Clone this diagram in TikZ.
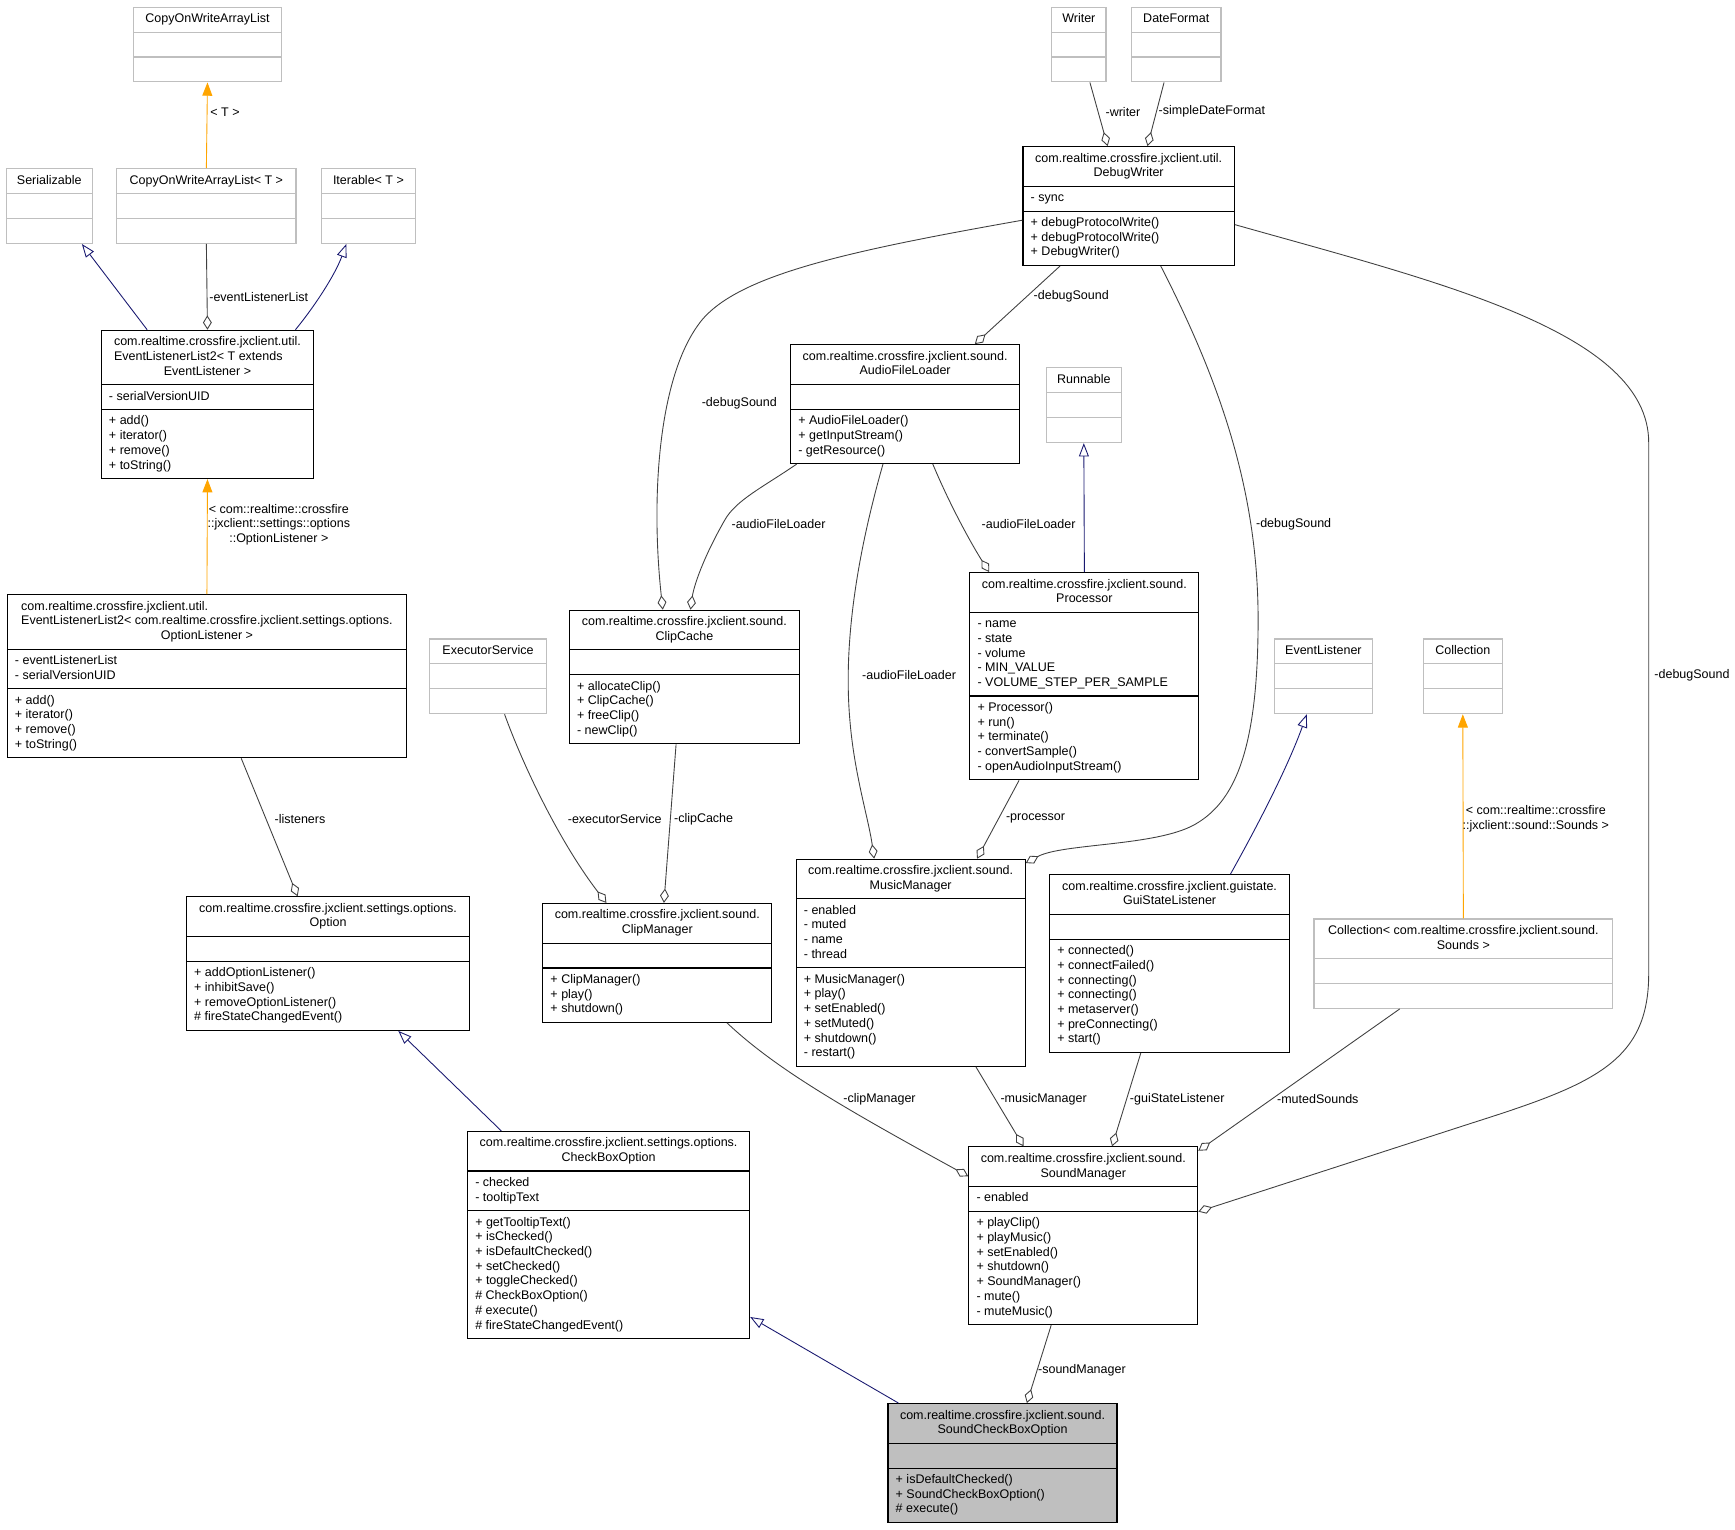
\documentclass[tikz,border=0pt]{standalone}
\usepackage{fontspec}
\setmainfont{Liberation Sans}
\usetikzlibrary{shapes.multipart,arrows.meta,calc}

\definecolor{edgegray}{HTML}{404040}
\definecolor{inhnavy}{HTML}{191970}
\definecolor{tmplorange}{HTML}{FFA500}
\definecolor{extgray}{HTML}{BFBFBF}
\definecolor{focusfill}{HTML}{BFBFBF}

\newcommand{\clsname}[1]{\begin{tabular}{@{}c@{}}#1\end{tabular}}
\newcommand{\clsrows}[1]{\begin{tabular}{@{}l@{}}#1\end{tabular}}

\tikzset{
  cls/.style={rectangle split, rectangle split parts=3,
    rectangle split part align={center,left,left},
    draw=black, line width=1pt, inner xsep=7pt, inner ysep=4.1pt, anchor=north west},
  extcls/.style={cls, draw=extgray},
  focuscls/.style={cls, fill=focusfill},
  agg/.style={draw=edgegray, line width=0.8pt, -{Diamond[open,length=13pt,width=8pt]}},
  isa/.style={draw=inhnavy, line width=0.8pt, -{Triangle[open,length=12pt,width=9pt]}},
  tmpl/.style={draw=tmplorange, line width=0.8pt, -{Triangle[length=12pt,width=9pt]}},
  lbl/.style={anchor=west, inner sep=0pt},
}

\begin{document}
\begin{tikzpicture}[x=1pt,y=-1pt,font=\fontsize{11.3}{13.3}\selectfont]
\useasboundingbox (0,0) rectangle (1568,1382);

% classes
\node[extcls,minimum width=134pt] (cow) at (120,6) {\clsname{CopyOnWriteArrayList}\nodepart{second}\strut\nodepart{third}\strut};
\node[extcls,minimum width=78pt] (ser) at (5,152) {\clsname{Serializable}\nodepart{second}\strut\nodepart{third}\strut};
\node[extcls,minimum width=162pt] (cowT) at (105,152) {\clsname{CopyOnWriteArrayList< T >}\nodepart{second}\strut\nodepart{third}\strut};
\node[extcls,minimum width=85pt] (iter) at (290,152) {\clsname{Iterable< T >}\nodepart{second}\strut\nodepart{third}\strut};
\node[cls,minimum width=192pt] (el2) at (91,298) {\clsrows{com.realtime.crossfire.jxclient.util.\\EventListenerList2< T extends\\\multicolumn{1}{@{}c@{}}{EventListener >}}\nodepart{second}\clsrows{- serialVersionUID}\nodepart{third}\clsrows{+ add()\\+ iterator()\\+ remove()\\+ toString()}};
\node[cls,minimum width=361pt] (el2b) at (6,537) {\clsrows{com.realtime.crossfire.jxclient.util.\\EventListenerList2< com.realtime.crossfire.jxclient.settings.options.\\\multicolumn{1}{@{}c@{}}{OptionListener >}}\nodepart{second}\clsrows{- eventListenerList\\- serialVersionUID}\nodepart{third}\clsrows{+ add()\\+ iterator()\\+ remove()\\+ toString()}};
\node[extcls,minimum width=105pt] (exec) at (388,577) {\clsname{ExecutorService}\nodepart{second}\strut\nodepart{third}\strut};
\node[cls,minimum width=256pt] (opt) at (168,810) {\clsname{com.realtime.crossfire.jxclient.settings.options.\\Option}\nodepart{second}\strut\nodepart{third}\clsrows{+ addOptionListener()\\+ inhibitSave()\\+ removeOptionListener()\\\# fireStateChangedEvent()}};
\node[cls,minimum width=208pt] (cc) at (514,551) {\clsname{com.realtime.crossfire.jxclient.sound.\\ClipCache}\nodepart{second}\strut\nodepart{third}\clsrows{+ allocateClip()\\+ ClipCache()\\+ freeClip()\\- newClip()}};
\node[cls,minimum width=207pt] (afl) at (714,311) {\clsname{com.realtime.crossfire.jxclient.sound.\\AudioFileLoader}\nodepart{second}\strut\nodepart{third}\clsrows{+ AudioFileLoader()\\+ getInputStream()\\- getResource()}};
\node[extcls,minimum width=68pt] (run) at (945,332) {\clsname{Runnable}\nodepart{second}\strut\nodepart{third}\strut};
\node[cls,minimum width=207pt] (proc) at (876,517) {\clsname{com.realtime.crossfire.jxclient.sound.\\Processor}\nodepart{second}\clsrows{- name\\- state\\- volume\\- MIN\_VALUE\\- VOLUME\_STEP\_PER\_SAMPLE}\nodepart{third}\clsrows{+ Processor()\\+ run()\\+ terminate()\\- convertSample()\\- openAudioInputStream()}};
\node[cls,minimum width=191pt] (dw) at (924,132) {\clsname{com.realtime.crossfire.jxclient.util.\\DebugWriter}\nodepart{second}\clsrows{- sync}\nodepart{third}\clsrows{+ debugProtocolWrite()\\+ debugProtocolWrite()\\+ DebugWriter()}};
\node[extcls,minimum width=49pt] (wri) at (950,6) {\clsname{Writer}\nodepart{second}\strut\nodepart{third}\strut};
\node[extcls,minimum width=81pt] (df) at (1022,6) {\clsname{DateFormat}\nodepart{second}\strut\nodepart{third}\strut};
\node[cls,minimum width=207pt] (mm) at (719,776) {\clsname{com.realtime.crossfire.jxclient.sound.\\MusicManager}\nodepart{second}\clsrows{- enabled\\- muted\\- name\\- thread}\nodepart{third}\clsrows{+ MusicManager()\\+ play()\\+ setEnabled()\\+ setMuted()\\+ shutdown()\\- restart()}};
\node[cls,minimum width=207pt] (cm) at (490,816) {\clsname{com.realtime.crossfire.jxclient.sound.\\ClipManager}\nodepart{second}\strut\nodepart{third}\clsrows{+ ClipManager()\\+ play()\\+ shutdown()}};
\node[cls,minimum width=217pt] (gsl) at (948,790) {\clsname{com.realtime.crossfire.jxclient.guistate.\\GuiStateListener}\nodepart{second}\strut\nodepart{third}\clsrows{+ connected()\\+ connectFailed()\\+ connecting()\\+ connecting()\\+ metaserver()\\+ preConnecting()\\+ start()}};
\node[extcls,minimum width=89pt] (evl) at (1151,577) {\clsname{EventListener}\nodepart{second}\strut\nodepart{third}\strut};
\node[extcls,minimum width=71pt] (col) at (1286,577) {\clsname{Collection}\nodepart{second}\strut\nodepart{third}\strut};
\node[extcls,minimum width=270pt] (cols) at (1187,830) {\clsname{Collection< com.realtime.crossfire.jxclient.sound.\\Sounds >}\nodepart{second}\strut\nodepart{third}\strut};
\node[cls,minimum width=255pt] (cbo) at (422,1022) {\clsname{com.realtime.crossfire.jxclient.settings.options.\\CheckBoxOption}\nodepart{second}\clsrows{- checked\\- tooltipText}\nodepart{third}\clsrows{+ getTooltipText()\\+ isChecked()\\+ isDefaultChecked()\\+ setChecked()\\+ toggleChecked()\\\# CheckBoxOption()\\\# execute()\\\# fireStateChangedEvent()}};
\node[cls,minimum width=207pt] (sm) at (875,1036) {\clsname{com.realtime.crossfire.jxclient.sound.\\SoundManager}\nodepart{second}\clsrows{- enabled}\nodepart{third}\clsrows{+ playClip()\\+ playMusic()\\+ setEnabled()\\+ shutdown()\\+ SoundManager()\\- mute()\\- muteMusic()}};
\node[focuscls,minimum width=207pt] (scbo) at (802,1268) {\clsname{com.realtime.crossfire.jxclient.sound.\\SoundCheckBoxOption}\nodepart{second}\strut\nodepart{third}\clsrows{+ isDefaultChecked()\\+ SoundCheckBoxOption()\\\# execute()}};

% inheritance
\draw[isa] ($(el2.north west)+(42,0)$) -- ($(ser.south west)+(69,0)$);
\draw[isa] ($(el2.north west)+(176,0)$) .. controls (285,276) and (303,248) .. ($(iter.south west)+(23,0)$);
\draw[isa] (proc.north) -- (run.south);
\draw[isa] ($(gsl.north west)+(164,0)$) .. controls (1140,740) and (1165,690) .. ($(evl.south west)+(30,0)$);
\draw[isa] ($(cbo.north west)+(31,0)$) -- ($(opt.south west)+(192,0)$);
\draw[isa] ($(scbo.north west)+(10,0)$) -- ($(cbo.south east)+(0,-20)$);

% template instances
\draw[tmpl] (cowT.north) -- (cow.south);
\draw[tmpl] (el2b.north) -- (el2.south);
\draw[tmpl] (cols.north) -- (col.south);

% usage
\draw[agg] (cowT.south) -- (el2.north);
\draw[agg] ($(el2b.south west)+(212,0)$) -- ($(opt.north west)+(101,0)$);
\draw[agg] ($(exec.south west)+(68,0)$) .. controls (472,690) and (505,760) .. ($(cm.north west)+(58,0)$);
\draw[agg] ($(cc.south west)+(97,0)$) -- ($(cm.north west)+(110,0)$);
\draw[agg] ($(dw.north west)+(0,67)$) .. controls (760,228) and (660,250) .. (630,295) .. controls (595,345) and (588,450) .. ($(cc.north west)+(85,0)$);
\draw[agg] ($(afl.south west)+(6,0)$) .. controls (690,440) and (665,452) .. (655,470) .. controls (635,505) and (627,530) .. ($(cc.north west)+(110,0)$);
\draw[agg] ($(afl.south west)+(84,0)$) .. controls (775,500) and (762,580) .. (768,650) .. controls (772,700) and (785,740) .. ($(mm.north west)+(71,0)$);
\draw[agg] ($(afl.south west)+(129,0)$) .. controls (860,460) and (880,495) .. ($(proc.north west)+(18,0)$);
\draw[agg] ($(dw.south west)+(34,0)$) -- ($(afl.north west)+(167,0)$);
\draw[agg] ($(wri.south west)+(35,0)$) -- ($(dw.north west)+(77,0)$);
\draw[agg] ($(df.south west)+(30,0)$) -- ($(dw.north west)+(113,0)$);
\draw[agg] ($(dw.south west)+(125,0)$) .. controls (1100,340) and (1137,440) .. (1137,560) .. controls (1137,680) and (1115,725) .. (1080,745) .. controls (1045,765) and (960,762) .. ($(mm.north east)+(0,4)$);
\draw[agg] ($(proc.south west)+(45,0)$) -- ($(mm.north west)+(164,0)$);
\draw[agg] ($(cols.south west)+(78,0)$) -- ($(sm.north east)+(0,4)$);
\draw[agg] ($(dw.north east)+(0,71)$) .. controls (1300,255) and (1490,300) .. (1490,400) -- (1490,880) .. controls (1490,960) and (1440,980) .. (1330,1015) -- ($(sm.north east)+(0,59)$);
\draw[agg] ($(cm.south west)+(167,0)$) .. controls (700,965) and (760,1000) .. ($(sm.north west)+(0,27)$);
\draw[agg] ($(mm.south west)+(163,0)$) -- ($(sm.north west)+(50,0)$);
\draw[agg] ($(gsl.south west)+(83,0)$) -- ($(sm.north west)+(130,0)$);
\draw[agg] ($(sm.south west)+(75,0)$) -- ($(scbo.north west)+(126,0)$);

% edge labels
\node[lbl] (t-cow) at (190,101) {< T >};
\node[lbl] (l-evlist) at (189,268) {-eventListenerList};
\node[lbl,anchor=center,align=center] (t-el2) at (252,474) {< com::realtime::crossfire\\::jxclient::settings::options\\::OptionListener >};
\node[lbl] (l-listeners) at (248,740) {-listeners};
\node[lbl] (l-exec) at (513,740) {-executorService};
\node[lbl] (l-cc) at (609,740) {-clipCache};
\node[lbl] (l-dbg-cc) at (634,364) {-debugSound};
\node[lbl] (l-afl-cc) at (661,474) {-audioFileLoader};
\node[lbl] (l-afl-mm) at (779,610) {-audioFileLoader};
\node[lbl] (l-afl-proc) at (887,474) {-audioFileLoader};
\node[lbl] (l-dbg-afl) at (934,268) {-debugSound};
\node[lbl] (l-writer) at (999,101) {-writer};
\node[lbl] (l-sdf) at (1047,101) {-simpleDateFormat};
\node[lbl] (l-dbg-mm) at (1135,474) {-debugSound};
\node[lbl] (l-proc) at (909,740) {-processor};
\node[lbl] (l-dbg-sm) at (1495,610) {-debugSound};
\node[lbl,anchor=center,align=center] (t-cols) at (1388,740) {< com::realtime::crossfire\\::jxclient::sound::Sounds >};
\node[lbl] (l-cm) at (762,993) {-clipManager};
\node[lbl] (l-mm) at (904,993) {-musicManager};
\node[lbl] (l-gsl) at (1021,993) {-guiStateListener};
\node[lbl] (l-muted) at (1154,993) {-mutedSounds};
\node[lbl] (l-sm) at (938,1238) {-soundManager};
\end{tikzpicture}
\end{document}
